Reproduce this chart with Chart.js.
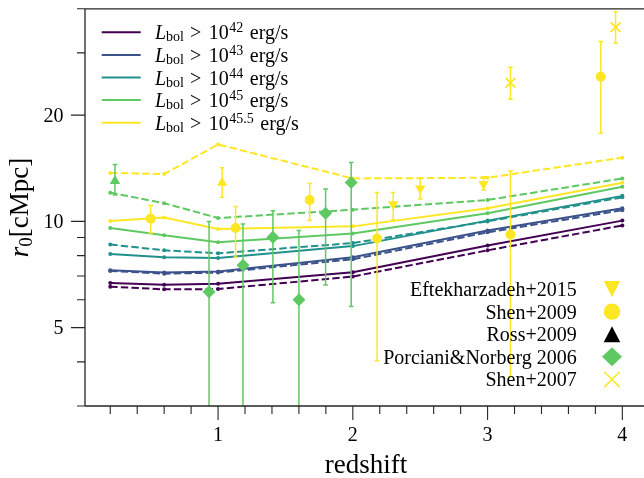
<!DOCTYPE html>
<html><head><meta charset="utf-8">
<script src="https://cdn.jsdelivr.net/npm/chart.js@4.4.1/dist/chart.umd.min.js"></script>
<style>
html,body{margin:0;padding:0;background:#fff;overflow:hidden;width:644px;height:478px}
canvas{display:block}
</style></head>
<body><canvas id="c" width="660" height="478"></canvas>
<script>
// ---------------- data ----------------
const modelRedshift = [0.2, 0.6, 1.0, 2.0, 3.0, 4.0];
const lumExponents = ['42', '43', '44', '45', '45.5'];
const r0_L42_solid   = [6.69, 6.61, 6.66, 7.18, 8.55, 10.05];
const r0_L42_dashed  = [6.53, 6.42, 6.43, 6.98, 8.28, 9.74];
const r0_L43_solid   = [7.27, 7.16, 7.21, 7.92, 9.42, 10.90];
const r0_L43_dashed  = [7.24, 7.11, 7.16, 7.81, 9.31, 10.76];
const r0_L44_solid   = [8.08, 7.92, 7.87, 8.51, 10.05, 11.81];
const r0_L44_dashed  = [8.60, 8.28, 8.12, 8.68, 10.00, 11.70];
const r0_L45_solid   = [9.58, 9.14, 8.73, 9.24, 10.55, 12.54];
const r0_L45_dashed  = [12.06, 11.26, 10.22, 10.79, 11.50, 13.23];
const r0_L455_solid  = [10.02, 10.26, 9.52, 9.68, 10.90, 12.86];
const r0_L455_dashed = [13.72, 13.61, 16.52, 13.23, 13.29, 15.15];

const eft_z  = [2.30, 2.50, 2.97];
const eft_r0 = [11.18, 12.40, 12.75];
const eft_lo = [10.11, 11.58, 12.27];
const eft_hi = [12.08, 13.23, 13.38];

const shen09_z  = [0.50, 1.13, 1.68, 2.18, 3.17, 3.84];
const shen09_r0 = [10.18, 9.58, 11.50, 8.94, 9.18, 25.67];
const shen09_lo = [9.27, 7.92, 10.06, 4.03, 3.63, 17.77];
const shen09_hi = [11.09, 11.02, 12.80, 12.08, 13.90, 32.33];

const ross_z  = [0.235, 1.03];
const ross_r0 = [13.01, 12.86];
const ross_lo = [11.88, 11.70];
const ross_hi = [14.48, 14.18];

const pn_z  = [0.933, 1.185, 1.407, 1.60, 1.798, 1.988];
const pn_r0 = [6.32, 7.51, 9.02, 6.00, 10.55, 12.89];
const pn_lo = [1.0, 1.0, 5.88, 1.0, 6.60, 5.74];
const pn_hi = [10.0, 9.83, 10.72, 9.42, 12.35, 14.67];

const shen07_z  = [3.17, 3.95];
const shen07_r0 = [24.70, 35.46];
const shen07_lo = [22.18, 31.98];
const shen07_hi = [27.33, 39.25];

const obsLabels = ['Eftekharzadeh+2015', 'Shen+2009', 'Ross+2009', 'Porciani&Norberg 2006', 'Shen+2007'];

const xMajorTicks = [1, 2, 3, 4];
const xMinorTicks = [0.2, 0.4, 0.6, 0.8, 1.2, 1.4, 1.6, 1.8, 2.2, 2.4, 2.6, 2.8, 3.2, 3.4, 3.6, 3.8];
const yMajorTicks = [5, 10, 20];
const yMinorTicks = [3, 4, 6, 7, 8, 9, 30, 40];

// ---------------- style ----------------
const FONT = '"Liberation Serif", "Times New Roman", serif';
const VIRIDIS = ['#440154', '#3b528b', '#21918c', '#5ec962', '#fde725'];
const YEL = VIRIDIS[4], GRN = VIRIDIS[3];
const rossPointColors = [GRN, YEL];

const solidSeries  = [r0_L42_solid, r0_L43_solid, r0_L44_solid, r0_L45_solid, r0_L455_solid];
const dashedSeries = [r0_L42_dashed, r0_L43_dashed, r0_L44_dashed, r0_L45_dashed, r0_L455_dashed];

const pts = (xs, ys) => xs.map((x, i) => ({x: x, y: ys[i]}));

const datasets = [];
// observational markers first (drawn on top)
datasets.push({label: 'Shen+2007', data: pts(shen07_z, shen07_r0), errLow: shen07_lo, errHigh: shen07_hi, errColor: YEL,
  showLine: false, pointStyle: 'crossRot', pointRadius: 7, pointBorderWidth: 1.8, pointBorderColor: YEL, pointBackgroundColor: YEL});
datasets.push({label: 'Porciani&Norberg 2006', data: pts(pn_z, pn_r0), errLow: pn_lo, errHigh: pn_hi, errColor: GRN,
  showLine: false, pointStyle: 'rectRot', pointRadius: 6.5, pointBorderWidth: 0, pointBackgroundColor: GRN});
datasets.push({label: 'Ross+2009', data: pts(ross_z, ross_r0), errLow: ross_lo, errHigh: ross_hi, errColor: rossPointColors,
  showLine: false, pointStyle: 'triangle', pointRadius: 6, pointBorderWidth: 0, pointBackgroundColor: rossPointColors});
datasets.push({label: 'Shen+2009', data: pts(shen09_z, shen09_r0), errLow: shen09_lo, errHigh: shen09_hi, errColor: YEL,
  showLine: false, pointStyle: 'circle', pointRadius: 5, pointBorderWidth: 0, pointBackgroundColor: YEL});
datasets.push({label: 'Eftekharzadeh+2015', data: pts(eft_z, eft_r0), errLow: eft_lo, errHigh: eft_hi, errColor: YEL,
  showLine: false, pointStyle: 'triangle', rotation: 180, pointRotation: 180, pointRadius: 6, pointBorderWidth: 0, pointBackgroundColor: YEL});
// model curves
for (let i = 4; i >= 0; i--) {
  datasets.push({label: 'L' + lumExponents[i] + ' dashed', data: pts(modelRedshift, dashedSeries[i]),
    showLine: true, borderColor: VIRIDIS[i], borderWidth: 2, borderDash: [7.4, 3.2],
    pointRadius: 2, pointBorderWidth: 0, pointBackgroundColor: VIRIDIS[i]});
  datasets.push({label: 'L' + lumExponents[i] + ' solid', data: pts(modelRedshift, solidSeries[i]),
    showLine: true, borderColor: VIRIDIS[i], borderWidth: 2,
    pointRadius: 2, pointBorderWidth: 0, pointBackgroundColor: VIRIDIS[i]});
}

function drawMarker(ctx, kind, x, y, color) {
  ctx.save();
  ctx.fillStyle = color; ctx.strokeStyle = color;
  ctx.beginPath();
  if (kind === 'tdown') {
    ctx.moveTo(x - 8.3, y - 8); ctx.lineTo(x + 8.3, y - 8); ctx.lineTo(x, y + 8); ctx.closePath(); ctx.fill();
  } else if (kind === 'tup') {
    ctx.moveTo(x - 8.3, y + 8); ctx.lineTo(x + 8.3, y + 8); ctx.lineTo(x, y - 8); ctx.closePath(); ctx.fill();
  } else if (kind === 'circle') {
    ctx.arc(x, y, 8.2, 0, Math.PI * 2); ctx.fill();
  } else if (kind === 'diamond') {
    ctx.moveTo(x - 10, y); ctx.lineTo(x, y - 9.5); ctx.lineTo(x + 10, y); ctx.lineTo(x, y + 9.5); ctx.closePath(); ctx.fill();
  } else if (kind === 'x') {
    ctx.lineWidth = 1.5;
    ctx.moveTo(x - 7.7, y - 7.7); ctx.lineTo(x + 7.7, y + 7.7);
    ctx.moveTo(x - 7.7, y + 7.7); ctx.lineTo(x + 7.7, y - 7.7); ctx.stroke();
  }
  ctx.restore();
}

const customPlugin = {
  id: 'custom',
  beforeDatasetDraw(chart, args) {
    const ds = chart.data.datasets[args.index];
    if (!ds.errLow) return;
    const ctx = chart.ctx, xs = chart.scales.x, ys = chart.scales.y, a = chart.chartArea;
    ctx.save();
    ctx.beginPath(); ctx.rect(a.left, a.top, a.right - a.left, a.bottom - a.top); ctx.clip();
    ctx.lineWidth = 1.5;
    ds.data.forEach((p, i) => {
      const col = Array.isArray(ds.errColor) ? ds.errColor[i] : ds.errColor;
      const x = xs.getPixelForValue(p.x);
      const y1 = ys.getPixelForValue(ds.errLow[i]);
      const y2 = ys.getPixelForValue(ds.errHigh[i]);
      ctx.strokeStyle = col;
      ctx.beginPath();
      ctx.moveTo(x, y1); ctx.lineTo(x, y2);
      ctx.moveTo(x - 2.3, y1); ctx.lineTo(x + 2.3, y1);
      ctx.moveTo(x - 2.3, y2); ctx.lineTo(x + 2.3, y2);
      ctx.stroke();
    });
    ctx.restore();
  },
  afterDraw(chart) {
    const ctx = chart.ctx, xs = chart.scales.x, ys = chart.scales.y, a = chart.chartArea;
    ctx.save();
    ctx.setLineDash([]);
    // spines
    ctx.strokeStyle = '#262626'; ctx.lineWidth = 1.3;
    ctx.beginPath();
    ctx.moveTo(a.left, a.top); ctx.lineTo(a.left, a.bottom);
    ctx.moveTo(a.left, a.bottom); ctx.lineTo(a.right, a.bottom);
    ctx.moveTo(a.left, a.top); ctx.lineTo(a.right, a.top);
    ctx.moveTo(a.right, a.top); ctx.lineTo(a.right, a.bottom);
    ctx.stroke();
    // ticks
    ctx.lineWidth = 1.1;
    ctx.beginPath();
    xMajorTicks.forEach(v => { const x = xs.getPixelForValue(v); ctx.moveTo(x, a.bottom); ctx.lineTo(x, a.bottom + 14); });
    xMinorTicks.forEach(v => { const x = xs.getPixelForValue(v); ctx.moveTo(x, a.bottom); ctx.lineTo(x, a.bottom + 8); });
    yMajorTicks.forEach(v => { const y = ys.getPixelForValue(v); ctx.moveTo(a.left, y); ctx.lineTo(a.left - 14, y); });
    yMinorTicks.forEach(v => { const y = ys.getPixelForValue(v); ctx.moveTo(a.left, y); ctx.lineTo(a.left - 8, y); });
    ctx.stroke();
    // tick labels
    ctx.fillStyle = '#000';
    ctx.font = '20px ' + FONT;
    ctx.textAlign = 'center'; ctx.textBaseline = 'alphabetic';
    xMajorTicks.forEach(v => ctx.fillText(String(v), xs.getPixelForValue(v), 440.5));
    ctx.textAlign = 'right';
    yMajorTicks.forEach(v => ctx.fillText(String(v), 63.5, ys.getPixelForValue(v) + 6.8));
    // axis titles
    ctx.font = '27px ' + FONT; ctx.textAlign = 'center';
    ctx.fillText('redshift', (a.left + a.right) / 2, 473);
    ctx.save();
    ctx.translate(28, (a.top + a.bottom) / 2);
    ctx.rotate(-Math.PI / 2);
    ctx.textAlign = 'left';
    ctx.font = 'italic 27px ' + FONT;
    const wr = ctx.measureText('r').width;
    ctx.font = '19px ' + FONT;
    const w0 = ctx.measureText('0').width;
    ctx.font = '27px ' + FONT;
    const wb = ctx.measureText('[cMpc]').width;
    let tx = -(wr + w0 + wb) / 2;
    ctx.font = 'italic 27px ' + FONT; ctx.fillText('r', tx, 0); tx += wr;
    ctx.font = '19px ' + FONT; ctx.fillText('0', tx, 4); tx += w0;
    ctx.font = '27px ' + FONT; ctx.fillText('[cMpc]', tx, 0);
    ctx.restore();
    // luminosity legend
    lumExponents.forEach((e, i) => {
      const y = 32.3 + i * 22.6;
      ctx.strokeStyle = VIRIDIS[i]; ctx.lineWidth = 2;
      ctx.beginPath(); ctx.moveTo(101.7, y); ctx.lineTo(140.7, y); ctx.stroke();
      const base = y + 7;
      let x = 155;
      ctx.textAlign = 'left'; ctx.fillStyle = '#000';
      ctx.font = 'italic 20px ' + FONT; ctx.fillText('L', x, base); x += ctx.measureText('L').width;
      ctx.font = '14px ' + FONT; ctx.fillText('bol', x, base + 2); x += ctx.measureText('bol').width + 6;
      ctx.font = '20px ' + FONT; ctx.fillText('>', x, base); x += ctx.measureText('>').width + 7.5;
      ctx.fillText('10', x, base); x += ctx.measureText('10').width + 0.5;
      ctx.font = '14px ' + FONT; ctx.fillText(e, x, base - 7); x += ctx.measureText(e).width + 6.5;
      ctx.font = '20px ' + FONT; ctx.fillText('erg/s', x, base);
    });
    // observations legend
    const kinds = ['tdown', 'circle', 'tup', 'diamond', 'x'];
    const kcols = [YEL, YEL, '#000', GRN, YEL];
    obsLabels.forEach((t, i) => {
      const y = 289 + i * 22.6;
      ctx.font = '20px ' + FONT; ctx.textAlign = 'right'; ctx.fillStyle = '#000';
      ctx.fillText(t, 576.7, y + 7);
      drawMarker(ctx, kinds[i], 612, y, kcols[i]);
    });
    ctx.restore();
  }
};

new Chart(document.getElementById('c'), {
  type: 'scatter',
  data: {datasets: datasets},
  options: {
    responsive: false,
    animation: false,
    events: [],
    devicePixelRatio: 1,
    layout: {padding: {left: 85, top: 6, right: 13, bottom: 72}},
    scales: {
      x: {type: 'linear', display: false, min: 0.0126, max: 4.183},
      y: {type: 'logarithmic', display: false, min: 3, max: 40}
    },
    plugins: {legend: {display: false}, tooltip: {enabled: false}}
  },
  plugins: [customPlugin]
});
</script>
</body></html>
